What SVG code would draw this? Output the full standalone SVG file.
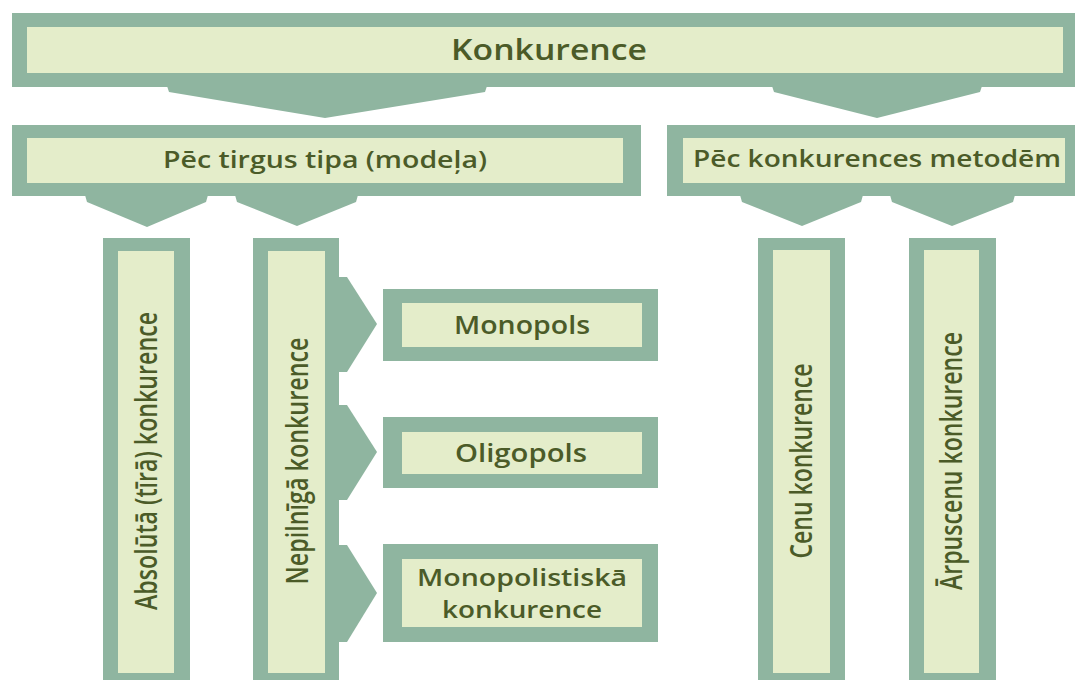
<svg xmlns="http://www.w3.org/2000/svg" width="1075" height="680" viewBox="0 0 1075 680">
<style>
.o{fill:#8fb5a0}
.i{fill:#e4edca}
.c{fill:#8fb5a0}
.t{font-family:"Open Sans","Liberation Sans",sans-serif;font-weight:600;fill:#4b5b28;text-anchor:middle}
</style>
<rect width="1075" height="680" fill="#ffffff"/>
<g id="connectors">
<polygon class="c" points="167,86 487,86 485,92 325,118 169,92"/>
<polygon class="c" points="772,86 982,86 980,92 877,118 774,92"/>
<polygon class="c" points="85,195 208,195 206,202 147,227 87,202"/>
<polygon class="c" points="235,195 358,195 356,202 297,226 237,202"/>
<polygon class="c" points="740,195 863,195 861,202 802,226 742,202"/>
<polygon class="c" points="890,195 1015,195 1013,202 952,226 892,202"/>
<polygon class="c" points="338,277 347,277 377,324 347,372 338,372"/>
<polygon class="c" points="338,405 347,405 377,452 347,500 338,500"/>
<polygon class="c" points="338,545 347,545 377,593 347,642 338,642"/>
</g>
<g id="konkurence">
<rect class="o" x="12" y="13" width="1063" height="74"/>
<rect class="i" x="27" y="27" width="1036" height="46"/>
<text class="t" x="549" y="60" font-size="29" textLength="196" lengthAdjust="spacingAndGlyphs">Konkurence</text>
</g>
<g id="tirgus">
<rect class="o" x="12" y="125" width="629" height="71"/>
<rect class="i" x="27" y="138" width="596" height="45"/>
<text class="t" x="325" y="168" font-size="24" textLength="324" lengthAdjust="spacingAndGlyphs">Pēc tirgus tipa (modeļa)</text>
</g>
<g id="metodes">
<rect class="o" x="667" y="125" width="408" height="71"/>
<rect class="i" x="683" y="138" width="382" height="45"/>
<text class="t" x="877" y="167" font-size="24" textLength="368" lengthAdjust="spacingAndGlyphs">Pēc konkurences metodēm</text>
</g>
<g id="absoluta">
<rect class="o" x="103" y="238" width="87" height="442"/>
<rect class="i" x="118" y="251" width="56" height="422"/>
<text class="t" transform="translate(157,461) rotate(-90)" font-size="30" textLength="298" lengthAdjust="spacingAndGlyphs">Absolūtā (tīrā) konkurence</text>
</g>
<g id="nepilniga">
<rect class="o" x="253" y="238" width="86" height="442"/>
<rect class="i" x="268" y="251" width="57" height="422"/>
<text class="t" transform="translate(308,461) rotate(-90)" font-size="30" textLength="247" lengthAdjust="spacingAndGlyphs">Nepilnīgā konkurence</text>
</g>
<g id="monopols">
<rect class="o" x="383" y="289" width="275" height="72"/>
<rect class="i" x="402" y="303" width="240" height="44"/>
<text class="t" x="522" y="334" font-size="25" textLength="136" lengthAdjust="spacingAndGlyphs">Monopols</text>
</g>
<g id="oligopols">
<rect class="o" x="383" y="417" width="275" height="71"/>
<rect class="i" x="402" y="432" width="240" height="42"/>
<text class="t" x="521" y="462" font-size="25" textLength="132" lengthAdjust="spacingAndGlyphs">Oligopols</text>
</g>
<g id="monopolistiska">
<rect class="o" x="383" y="544" width="275" height="98"/>
<rect class="i" x="402" y="559" width="240" height="68"/>
<text class="t" x="522" y="586" font-size="24" textLength="210" lengthAdjust="spacingAndGlyphs">Monopolistiskā</text>
<text class="t" x="522" y="618" font-size="24" textLength="160" lengthAdjust="spacingAndGlyphs">konkurence</text>
</g>
<g id="cenu">
<rect class="o" x="758" y="238" width="87" height="442"/>
<rect class="i" x="773" y="250" width="57" height="423"/>
<text class="t" transform="translate(812,461) rotate(-90)" font-size="30" textLength="195" lengthAdjust="spacingAndGlyphs">Cenu konkurence</text>
</g>
<g id="arpuscenu">
<rect class="o" x="909" y="238" width="87" height="442"/>
<rect class="i" x="924" y="250" width="55" height="423"/>
<text class="t" transform="translate(962,461) rotate(-90)" font-size="30" textLength="258" lengthAdjust="spacingAndGlyphs">Ārpuscenu konkurence</text>
</g>
</svg>
